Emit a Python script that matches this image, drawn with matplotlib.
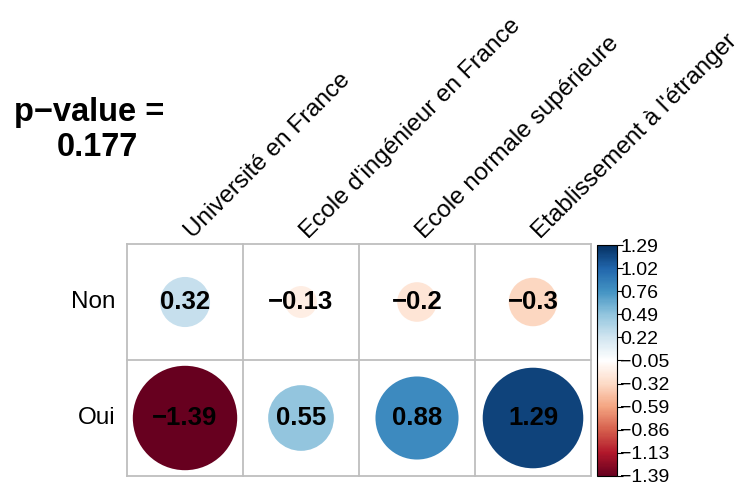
import numpy as np
import matplotlib
matplotlib.use("Agg")
import matplotlib.pyplot as plt
from matplotlib.colors import LinearSegmentedColormap, Normalize
from matplotlib.patches import Circle
from matplotlib.cm import ScalarMappable

plt.rcParams["font.family"] = ["Liberation Sans", "DejaVu Sans"]

# Data
rows = ["Non", "Oui"]
cols = ["Université en France", "Ecole d'ingénieur en France",
        "Ecole normale supérieure", "Etablissement à l'étranger"]
values_non = [0.32, -0.13, -0.2, -0.3]
values_oui = [-1.39, 0.55, 0.88, 1.29]
value_labels_non = ["0.32", "\u22120.13", "\u22120.2", "\u22120.3"]
value_labels_oui = ["\u22121.39", "0.55", "0.88", "1.29"]
cbar_labels = ["1.29", "1.02", "0.76", "0.49", "0.22", "\u22120.05",
               "\u22120.32", "\u22120.59", "\u22120.86", "\u22121.13", "\u22121.39"]
title_lines = ["p\u2212value =", "0.177"]

values = np.array([values_non, values_oui])
labels = [value_labels_non, value_labels_oui]
vmin, vmax = -1.39, 1.29

# RdBu palette as used by corrplot (white centre)
rdbu = ["#67001F", "#B2182B", "#D6604D", "#F4A582", "#FDDBC7", "#FFFFFF",
        "#D1E5F0", "#92C5DE", "#4393C3", "#2166AC", "#053061"]
cmap = LinearSegmentedColormap.from_list("rdbu_corr", rdbu, N=200)
max_abs = np.abs(values).max()
circle_norm = Normalize(vmin=-max_abs, vmax=max_abs)
bar_norm = Normalize(vmin=vmin, vmax=vmax)

W, H = 743, 484
fig = plt.figure(figsize=(W / 100, H / 100), dpi=100)

# Matrix of circles
ax = fig.add_axes([127 / W, 8 / H, 464 / W, 232 / H])
ax.set_xlim(0, 4)
ax.set_ylim(2, 0)
ax.set_axis_off()

for i in range(len(rows)):
    for j in range(len(cols)):
        v = values[i, j]
        r = 0.45 * np.sqrt(abs(v) / max_abs)
        ax.add_patch(Circle((j + 0.5, i + 0.5), r, facecolor=cmap(circle_norm(v)),
                            edgecolor="none", zorder=2))
        ax.text(j + 0.5, i + 0.5, labels[i][j], ha="center", va="center",
                fontsize=18.5, fontweight="bold", color="black", zorder=3)

for x in range(len(cols) + 1):
    ax.plot([x, x], [0, 2], color="#BEBEBE", lw=1.3, zorder=1, clip_on=False)
for y in range(len(rows) + 1):
    ax.plot([0, 4], [y, y], color="#BEBEBE", lw=1.3, zorder=1, clip_on=False)

for i, name in enumerate(rows):
    ax.text(-0.1, i + 0.5, name, ha="right", va="center", fontsize=17.5)
for j, name in enumerate(cols):
    ax.text(j + 0.565, -0.043, name, rotation=45, rotation_mode="anchor",
            ha="left", va="baseline", fontsize=17.5, clip_on=False)

# Colour legend
cax = fig.add_axes([597 / W, 8 / H, 20 / W, 231 / H])
sm = ScalarMappable(norm=bar_norm, cmap=cmap)
cb = fig.colorbar(sm, cax=cax)
ticks = np.linspace(vmax, vmin, len(cbar_labels))
cb.set_ticks(ticks)
cb.set_ticklabels(cbar_labels)
cb.outline.set_linewidth(0.8)
cax.tick_params(axis="y", length=4, width=0.8, pad=-1.5, labelsize=14)

# Title
fig.text(89 / W, 1 - 112 / H, title_lines[0], ha="center", va="center",
         fontsize=23.5, fontweight="bold")
fig.text(97 / W, 1 - 148 / H, title_lines[1], ha="center", va="center",
         fontsize=23.5, fontweight="bold")

fig.savefig("out.png", dpi=100)
